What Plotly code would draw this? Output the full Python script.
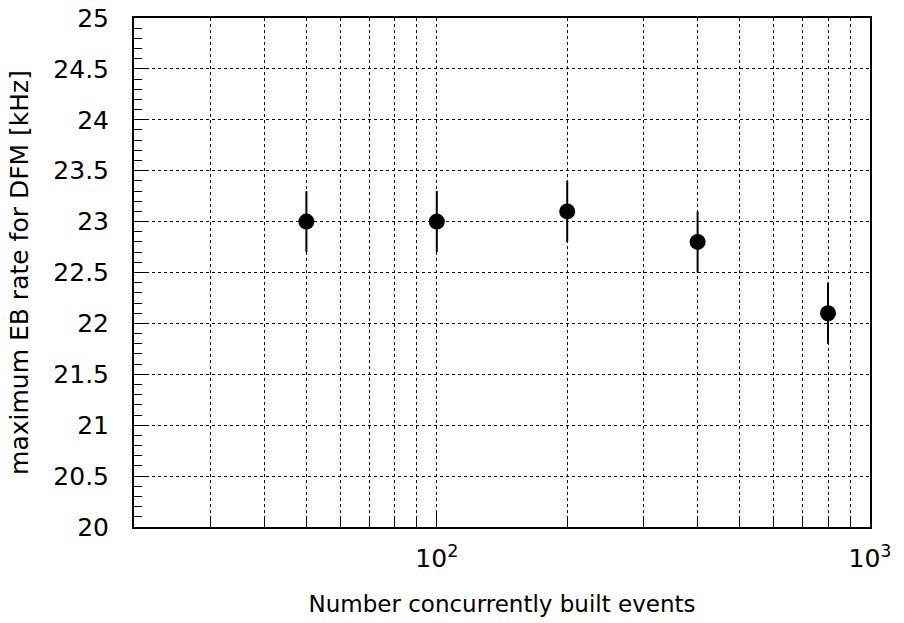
import plotly.graph_objects as go

n_events = [50, 100, 200, 400, 800]
rate_khz = [23.0, 23.0, 23.1, 22.8, 22.1]
rate_err = [0.3, 0.3, 0.3, 0.3, 0.3]

y_tickvals = [20, 20.5, 21, 21.5, 22, 22.5, 23, 23.5, 24, 24.5, 25]
y_ticktext = ["20", "20.5", "21", "21.5", "22", "22.5", "23", "23.5", "24", "24.5", "25"]
x_tickvals = [100, 1000]
x_ticktext = ["10<sup>2</sup>", "10<sup>3</sup>"]
x_minor = [20, 30, 40, 50, 60, 70, 80, 90, 200, 300, 400, 500, 600, 700, 800, 900]

FONT = "DejaVu Sans"

fig = go.Figure()
fig.add_trace(go.Scatter(
    x=n_events, y=rate_khz,
    mode="markers",
    marker=dict(color="black", size=16, symbol="circle"),
    error_y=dict(type="data", array=rate_err, color="black", thickness=2, width=0),
    showlegend=False,
))

fig.update_layout(
    width=904, height=623,
    margin=dict(l=134, r=34, t=18, b=96),
    paper_bgcolor="white", plot_bgcolor="white",
    font=dict(family=FONT, color="black", size=24),
)

fig.update_xaxes(
    type="log", range=[1.30103, 3], automargin=False,
    tickvals=x_tickvals, ticktext=x_ticktext,
    ticks="inside", ticklen=16, tickwidth=1, tickcolor="black",
    showline=True, linecolor="black", linewidth=2, mirror=True,
    showgrid=True, gridcolor="black", gridwidth=1, griddash="dot",
    zeroline=False,
    minor=dict(tickvals=x_minor, ticks="inside", ticklen=8, tickcolor="black",
               showgrid=True, gridcolor="black", gridwidth=1, griddash="dot"),
    tickfont=dict(size=25),
    ticklabelstandoff=8,
    ticklabeloverflow="allow",
    title=dict(text="Number concurrently built events", font=dict(size=23), standoff=24),
)

fig.update_yaxes(
    range=[20, 25], automargin=False,
    tickvals=y_tickvals, ticktext=y_ticktext,
    ticks="inside", ticklen=15, tickwidth=1, tickcolor="black",
    showline=True, linecolor="black", linewidth=2, mirror=True,
    showgrid=True, gridcolor="black", gridwidth=1, griddash="dot",
    zeroline=False,
    minor=dict(dtick=0.1, ticks="inside", ticklen=8, tickcolor="black", showgrid=False),
    tickfont=dict(size=25),
    ticklabelstandoff=18,
    ticklabeloverflow="allow",
    title=dict(text="maximum EB rate for DFM [kHz]", font=dict(size=25), standoff=18),
)

# remove the default 8px page margin so the figure fills the window exactly
fig.write_html("out.html", config={"displayModeBar": False},
               post_script="document.body.style.margin='0';")
